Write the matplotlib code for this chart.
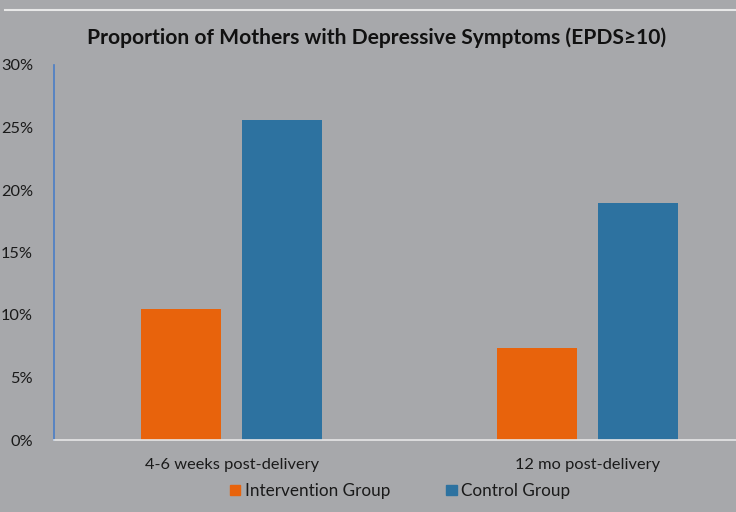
import matplotlib.pyplot as plt
from matplotlib.lines import Line2D
from matplotlib.patches import Patch
from matplotlib.ticker import PercentFormatter

plt.rcParams['font.family'] = ['Lato', 'DejaVu Sans']

categories = ['4-6 weeks post-delivery', '12 mo post-delivery']
intervention = [10.5, 7.4]
control = [25.6, 19.0]
series_names = ['Intervention Group', 'Control Group']

bg = '#A7A8AB'
orange = '#E8630C'
blue = '#2D72A0'

fig = plt.figure(figsize=(7.36, 5.12), dpi=100, facecolor=bg)
# axis runs past the right edge like the original slide crop
ax = fig.add_axes([54 / 736, 72 / 512, 712 / 736, 375 / 512])
ax.set_facecolor(bg)

x = list(range(len(categories)))
w = 0.225
ax.bar([i - 0.142 for i in x], intervention, w, color=orange, label=series_names[0])
ax.bar([i + 0.140 for i in x], control, w, color=blue, label=series_names[1])

ax.set_xlim(-0.5, 1.5)
ax.set_ylim(0, 30)
ax.set_yticks(range(0, 31, 5))
ax.yaxis.set_major_formatter(PercentFormatter(decimals=0))
ax.set_xticks(x)
ax.set_xticklabels(categories)
ax.tick_params(axis='both', length=0, labelsize=11.8, colors='#1a1a1a')
ax.tick_params(axis='y', pad=15)
ax.tick_params(axis='x', pad=13)

for s in ['top', 'right']:
    ax.spines[s].set_visible(False)
ax.spines['left'].set_color('#4A7DC6')
ax.spines['left'].set_linewidth(1.2)
ax.spines['bottom'].set_color('#E6E6E6')
ax.spines['bottom'].set_linewidth(1.2)

fig.text(377 / 736, 1 - 38 / 512, 'Proportion of Mothers with Depressive Symptoms (EPDS\u226510)',
         ha='center', va='center', fontsize=15.1, fontweight='bold', color='#111111')

fig.add_artist(Line2D([5 / 736, 1], [1 - 9.5 / 512, 1 - 9.5 / 512], color='#E8E8E8', lw=1.5))

handles = [Patch(color=orange), Patch(color=blue)]
fig.legend(handles, series_names, loc='center', bbox_to_anchor=(400 / 736, 1 - 491 / 512),
           ncol=2, frameon=False, fontsize=12.3, handlelength=0.6, handleheight=0.6,
           handletextpad=0.25, columnspacing=3.3, labelcolor='#1a1a1a')

fig.savefig('out.png', dpi=100, facecolor=bg)
